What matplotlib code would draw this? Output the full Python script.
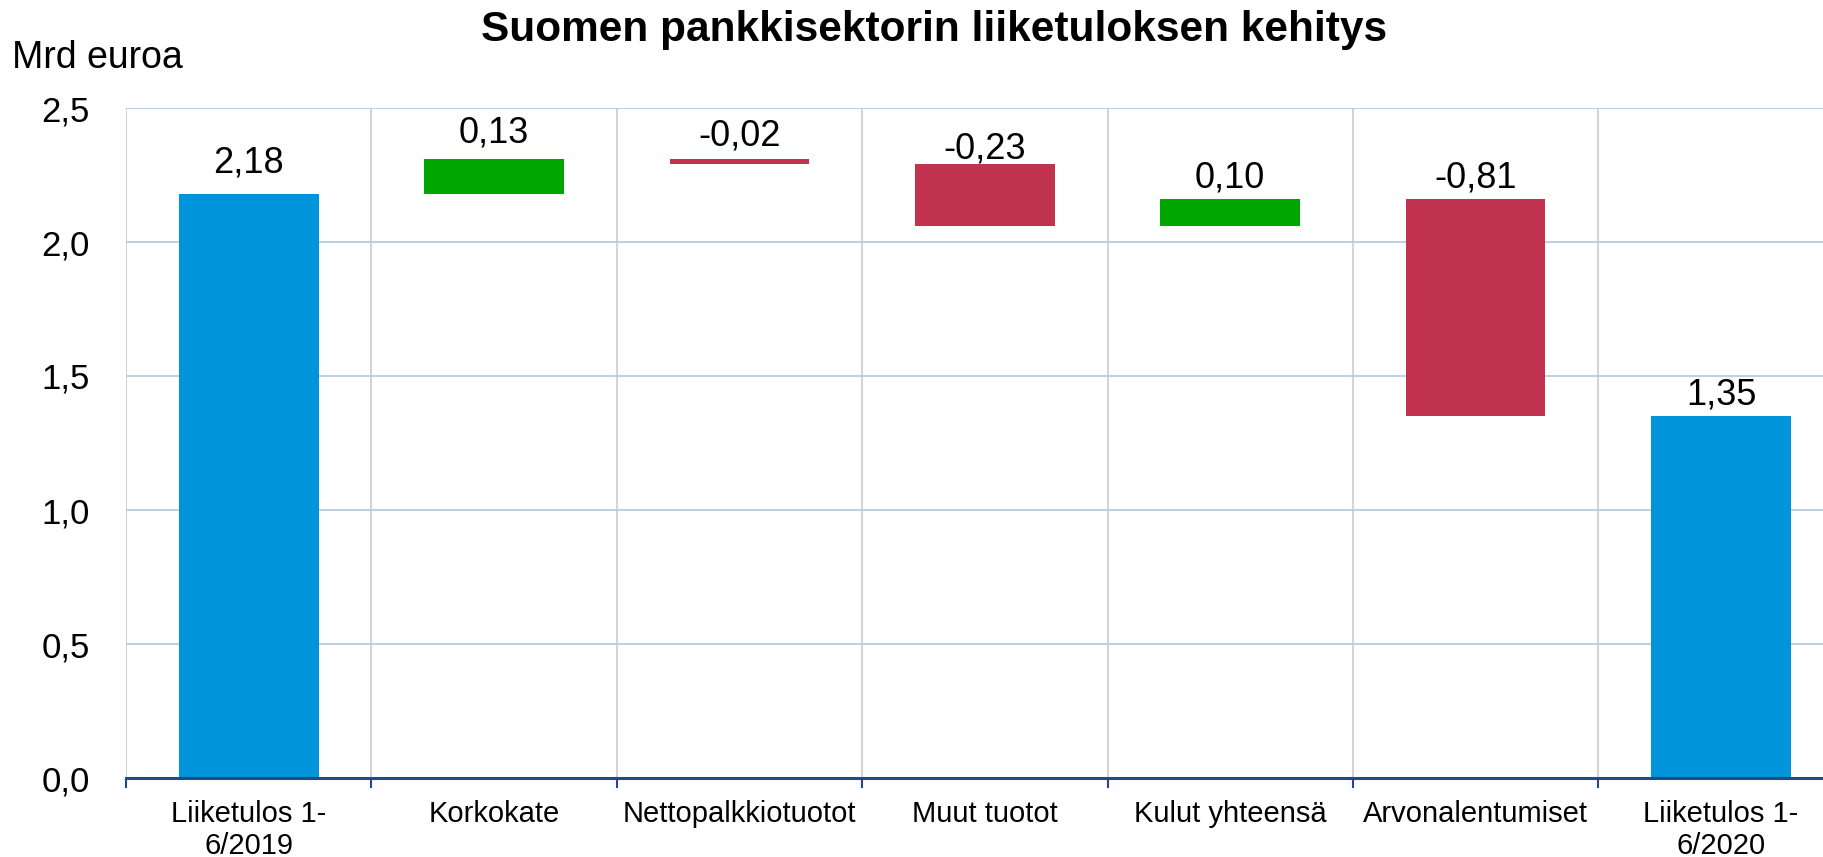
import numpy as np
import matplotlib.pyplot as plt
from matplotlib.ticker import FixedLocator

plt.rcParams['font.family'] = ['Liberation Sans', 'DejaVu Sans']

categories = ["Liiketulos 1-\n6/2019", "Korkokate", "Nettopalkkiotuotot", "Muut tuotot",
              "Kulut yhteensä", "Arvonalentumiset", "Liiketulos 1-\n6/2020"]
values = [2.18, 0.13, -0.02, -0.23, 0.10, -0.81, 1.35]
is_total = [True, False, False, False, False, False, True]
yticks = [0.0, 0.5, 1.0, 1.5, 2.0, 2.5]

# gap (points) between bar top and label baseline, as placed in the original
label_gap = [15, 12, 10, 4.3, 8.6, 8.6, 8.6]

blue = '#0095DA'
green = '#00A600'
red = '#C1324F'
navy = '#1F4A8C'

# waterfall bottoms / heights
bottoms, heights, colors = [], [], []
level = 0.0
for v, tot in zip(values, is_total):
    if tot:
        bottoms.append(0.0)
        heights.append(v)
        colors.append(blue)
        level = v
    else:
        start = level
        level = level + v
        bottoms.append(min(start, level))
        heights.append(abs(v))
        colors.append(green if v > 0 else red)

fig = plt.figure(figsize=(18.24, 8.57), dpi=100)
ax = fig.add_axes([126 / 1824, 1 - 778 / 857, 1 - 126 / 1824, (778 - 108) / 857])

x = np.arange(len(categories))
ax.bar(x, heights, bottom=bottoms, width=0.57, color=colors, zorder=3)

for xi, b, h, v, g in zip(x, bottoms, heights, values, label_gap):
    ax.annotate(f"{v:.2f}".replace('.', ','), (xi, b + h), xytext=(0, g),
                textcoords='offset points', ha='center', va='baseline', fontsize=26)

ax.set_xlim(-0.5, 6.42)
ax.set_ylim(0, 2.5)
ax.set_yticks(yticks)
ax.set_yticklabels([f"{t:.1f}".replace('.', ',') for t in yticks], fontsize=25)
ax.tick_params(axis='y', length=0, pad=26)

ax.set_xticks(x)
ax.set_xticklabels(categories, fontsize=21, linespacing=1.15)
ax.tick_params(axis='x', which='major', length=0, pad=16)
ax.xaxis.set_minor_locator(FixedLocator(np.arange(-0.5, 7.0, 1.0)))
ax.tick_params(axis='x', which='minor', length=7, width=1.5, color=navy, direction='out')

ax.grid(axis='y', color='#B7CCE3', linewidth=1.3, zorder=0)
for bnd in np.arange(-0.5, 7.0, 1.0):
    ax.axvline(bnd, color='#D4D4D4', linewidth=1.5, zorder=0)

for side in ['top', 'right', 'left']:
    ax.spines[side].set_visible(False)
ax.spines['bottom'].set_color(navy)
ax.spines['bottom'].set_linewidth(2.2)
ax.spines['bottom'].set_zorder(4)

fig.text(934 / 1824, 1 - 30 / 857, "Suomen pankkisektorin liiketuloksen kehitys",
         ha='center', va='center', fontsize=30.5, fontweight='bold')
fig.text(12 / 1824, 1 - 58 / 857, "Mrd euroa", ha='left', va='center', fontsize=27)

fig.savefig('out.png', dpi=100)
